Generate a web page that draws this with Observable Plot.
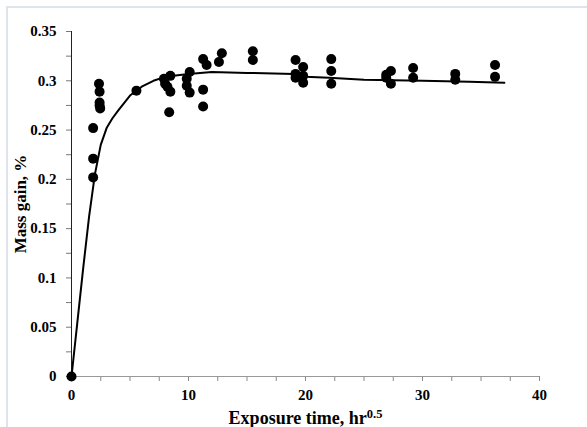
<!DOCTYPE html>
<html>
<head>
<meta charset="utf-8">
<script src="https://cdn.jsdelivr.net/npm/d3@7"></script>
<script src="https://cdn.jsdelivr.net/npm/@observablehq/plot@0.6"></script>
<style>
  html, body { margin: 0; padding: 0; background: #fff; overflow: hidden; }
  #wrap { position: relative; width: 587px; height: 427px; }
  #border { position: absolute; left: 6px; top: 6px; width: 700px; height: 600px;
            border-left: 2px solid #dfe4ea; border-top: 2px solid #dfe4ea; pointer-events: none; }
  svg text, svg tspan { font-family: 'Liberation Serif', serif !important; font-weight: bold !important; }
</style>
</head>
<body>
<div id="wrap"><div id="border"></div></div>
<script>
// Measured points: exposure time (hr^0.5) and mass gain (%)
const pointX = [0,
  1.85, 1.85, 1.85,
  2.35, 2.4, 2.4, 2.4, 2.45,
  5.55,
  7.9, 8.0, 8.2, 8.45, 8.45, 8.35,
  9.85, 9.85, 10.1, 10.1,
  11.25, 11.55, 11.25, 11.25,
  12.6, 12.85,
  15.5, 15.5,
  19.15, 19.15, 19.15,
  19.8, 19.8, 19.8,
  22.2, 22.2, 22.2,
  26.9, 27.3, 27.3, 26.9,
  29.2, 29.2,
  32.8, 32.8,
  36.2, 36.2];
const pointY = [0,
  0.252, 0.221, 0.202,
  0.297, 0.289, 0.278, 0.275, 0.272,
  0.290,
  0.302, 0.297, 0.294, 0.305, 0.289, 0.268,
  0.302, 0.295, 0.309, 0.288,
  0.322, 0.316, 0.291, 0.274,
  0.319, 0.328,
  0.330, 0.321,
  0.321, 0.307, 0.303,
  0.314, 0.305, 0.298,
  0.322, 0.310, 0.297,
  0.306, 0.310, 0.297, 0.303,
  0.313, 0.303,
  0.307, 0.301,
  0.316, 0.304];

// Fitted curve
const curveX = [0, 0.5, 1, 1.5, 2, 2.5, 3, 3.5, 4, 5, 6, 7, 8, 10, 12, 15, 19, 20, 22, 25, 30, 34, 37];
const curveY = [0, 0.055, 0.11, 0.162, 0.205, 0.235, 0.252, 0.262, 0.27, 0.285, 0.294, 0.300, 0.304, 0.307, 0.309, 0.308, 0.307, 0.304, 0.303, 0.301, 0.300, 0.299, 0.298];

const yTicks = [0, 0.05, 0.1, 0.15, 0.2, 0.25, 0.3, 0.35];
const yMinor = [0.025, 0.075, 0.125, 0.175, 0.225, 0.275, 0.325];
const xTicks = [0, 10, 20, 30, 40];
const xMinor = [2.5, 5, 7.5, 12.5, 15, 17.5, 22.5, 25, 27.5, 32.5, 35, 37.5];

const points = pointX.map((x, i) => ({x, y: pointY[i]}));
const curve = curveX.map((x, i) => ({x, y: curveY[i]}));

const chart = Plot.plot({
  width: 587,
  height: 427,
  marginLeft: 71,
  marginRight: 48,
  marginTop: 31,
  marginBottom: 51,
  style: {fontFamily: "'Liberation Serif', serif", fontWeight: "bold", fontSize: "15px", color: "#000", background: "transparent", overflow: "visible"},
  x: {domain: [0, 40]},
  y: {domain: [0, 0.35]},
  marks: [
    Plot.axisY({ticks: yMinor, tickSize: 5, label: null, stroke: "#777", text: null}),
    Plot.axisY({ticks: yTicks, tickSize: 5, tickPadding: 10, stroke: "#777",
      tickFormat: d => String(+d.toFixed(2)), label: "Mass gain, %", labelAnchor: "center", labelArrow: "none", labelOffset: 58, fontSize: 15}),
    Plot.axisX({ticks: xMinor, tickSize: 5, text: null, label: null, stroke: "#888"}),
    Plot.axisX({ticks: xTicks, tickSize: 5, tickPadding: 8, stroke: "#888",
      tickFormat: d => String(d), label: "Exposure time, hr", labelAnchor: "center", labelArrow: "none", labelOffset: 47}),
    Plot.ruleX([0], {stroke: "#222", strokeWidth: 1}),
    Plot.ruleY([0], {stroke: "#999", strokeWidth: 1}),
    Plot.line(curve, {x: "x", y: "y", stroke: "#000", strokeWidth: 2}),
    Plot.dot(points, {x: "x", y: "y", r: 5, fill: "#000", stroke: "none"})
  ]
});

d3.select(chart).selectAll("text").attr("font-family", "Liberation Serif").attr("font-weight", "bold");
d3.select(chart).selectAll('[aria-label="y-axis label"] text').style("font-size", "17px");
d3.select(chart).selectAll('[aria-label="x-axis label"] text').style("font-size", "18px");
const xl = chart.querySelector('[aria-label="x-axis label"] text');
if (xl) {
  d3.select(xl).append("tspan").attr("dy", "-0.45em").style("font-size", "12.5px").text("0.5");
}
document.getElementById("wrap").prepend(chart);
chart.style.position = "absolute";
chart.style.left = "0";
chart.style.top = "0";
</script>
</body>
</html>
